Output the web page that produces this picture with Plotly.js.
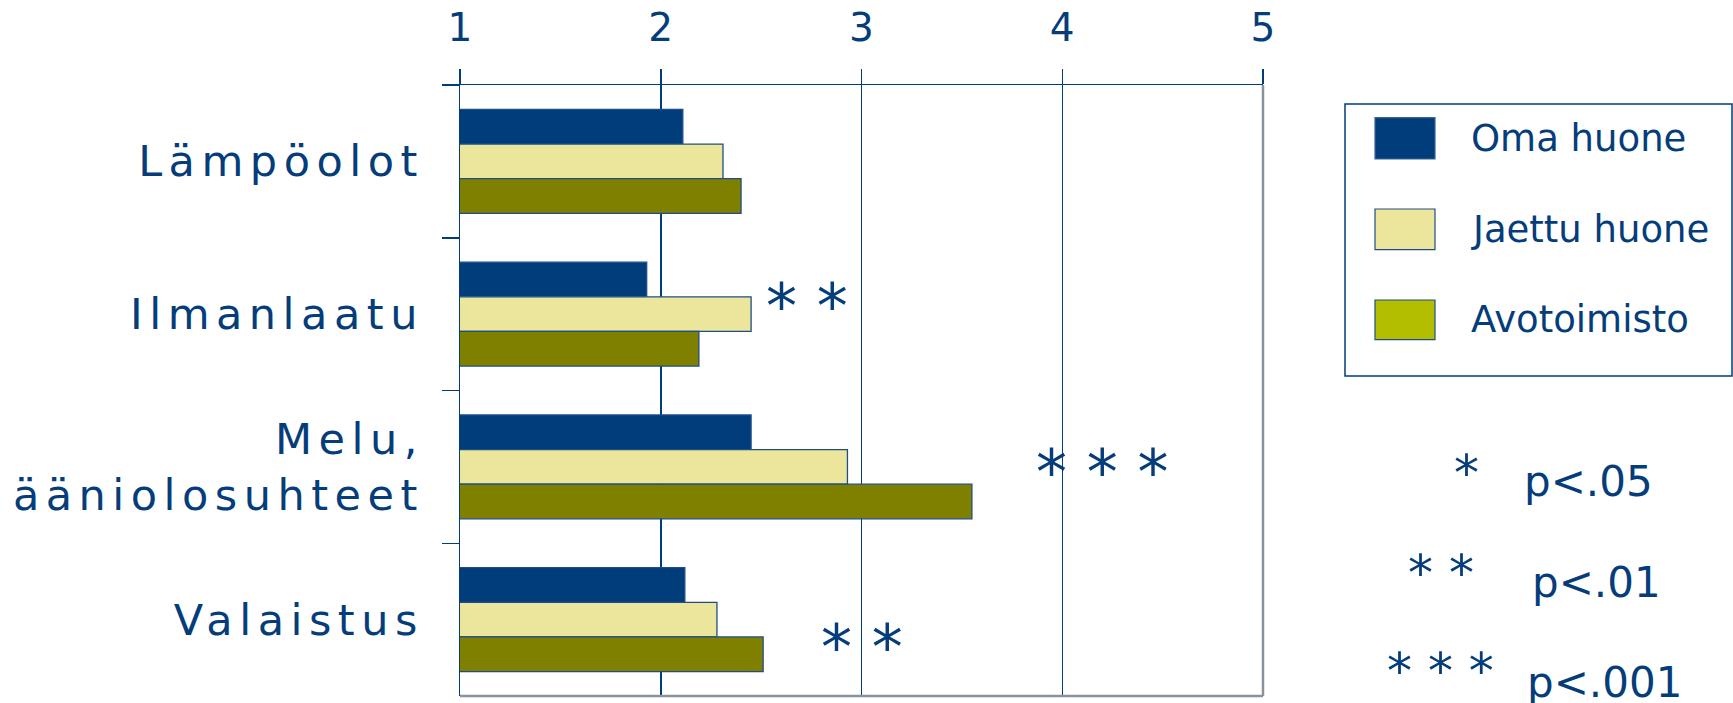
<!DOCTYPE html>
<html>
<head>
<meta charset="utf-8">
<script src="https://cdn.plot.ly/plotly-3.0.1.min.js"></script>
<style>
  html, body { margin: 0; padding: 0; background: #ffffff; }
  #chart { width: 1733px; height: 703px; }
  #chart .ytick text { letter-spacing: 6.5px; }
</style>
</head>
<body>
<div id="chart"></div>
<script>
// ---- data ----
const categories = ['Lämpöolot', 'Ilmanlaatu', 'Melu,<br>ääniolosuhteet', 'Valaistus'];
const seriesNames = ['Oma huone', 'Jaettu huone', 'Avotoimisto'];
const omaHuone = [2.11, 1.93, 2.45, 2.12];
const jaettuHuone = [2.31, 2.45, 2.93, 2.28];
const avotoimisto = [2.40, 2.19, 3.55, 2.51];
const xTickValues = [1, 2, 3, 4, 5];
const significance = ['', '* *', '* * *', '* *'];
const sigLegendStars = ['*', '* *', '* * *'];
const sigLegendLabels = ['p<.05', 'p<.01', 'p<.001'];

// ---- style ----
const BLUE = '#003d7a';
const TEXT = '#053d7b';
const EDGE = '#1f4e86';
const GRAY = '#8a929c';
const barFill = ['#003d7a', '#ebe69b', '#808000'];
const swatchFill = ['#003d7a', '#ebe69b', '#b3be00'];
const FONT = 'DejaVu Sans, Verdana, sans-serif';

// pixel -> paper helpers (plot area 460..1263 x 85..696)
const L = 460, R = 1263, T = 85, B = 696;
const X = px => (px - L) / (R - L);
const Y = py => (B - py) / (B - T);

const values = [omaHuone, jaettuHuone, avotoimisto];
const traces = values.map((v, i) => ({
  type: 'bar',
  orientation: 'h',
  name: seriesNames[i],
  y: categories,
  x: v,
  marker: { color: barFill[i], line: { color: EDGE, width: 1.3 } },
  hoverinfo: 'x+name',
  showlegend: false
}));

const shapes = [
  // gray right and bottom frame
  { type: 'line', xref: 'paper', yref: 'paper', x0: 1, x1: 1, y0: 0, y1: 1,
    line: { color: GRAY, width: 2.5 }, layer: 'above' },
  { type: 'line', xref: 'paper', yref: 'paper', x0: 0, x1: 1, y0: 0, y1: 0,
    line: { color: GRAY, width: 2.5 }, layer: 'above' },
  // legend box
  { type: 'rect', xref: 'paper', yref: 'paper', x0: X(1345), x1: X(1732), y0: Y(376), y1: Y(104),
    line: { color: BLUE, width: 1.5 }, fillcolor: 'rgba(0,0,0,0)' }
];
const swatchRows = [[117.7, 159], [209, 249.7], [300, 339.7]];
const annotations = [];
swatchRows.forEach((r, i) => {
  shapes.push({ type: 'rect', xref: 'paper', yref: 'paper',
    x0: X(1375), x1: X(1435), y0: Y(r[1]), y1: Y(r[0]),
    fillcolor: swatchFill[i], line: { color: i === 0 ? '#3a6596' : EDGE, width: 1.2 } });
  annotations.push({ xref: 'paper', yref: 'paper', x: X(1469), y: Y((r[0] + r[1]) / 2),
    xanchor: 'left', yanchor: 'middle', showarrow: false, text: seriesNames[i],
    font: { family: FONT, size: 37, color: TEXT } });
});

// significance stars next to bars
const starPos = [null, [807, 306], [1102, 472], [862, 647]];
significance.forEach((s, i) => {
  if (!s) return;
  annotations.push({ xref: 'paper', yref: 'paper', x: X(starPos[i][0]), y: Y(starPos[i][1]),
    xanchor: 'center', yanchor: 'middle', showarrow: false, text: s,
    font: { family: FONT, size: 62, color: TEXT } });
});

// significance legend
const sigStarPos = [[1466, 473], [1441, 573], [1440, 671]];
const sigLabelPos = [[1522, 482], [1530, 582], [1525, 682]];
sigLegendStars.forEach((s, i) => {
  annotations.push({ xref: 'paper', yref: 'paper', x: X(sigStarPos[i][0]), y: Y(sigStarPos[i][1]),
    xanchor: 'center', yanchor: 'middle', showarrow: false, text: s,
    font: { family: FONT, size: 50, color: TEXT } });
  annotations.push({ xref: 'paper', yref: 'paper', x: X(sigLabelPos[i][0]), y: Y(sigLabelPos[i][1]),
    xanchor: 'left', yanchor: 'middle', showarrow: false, text: sigLegendLabels[i],
    font: { family: FONT, size: 42, color: TEXT } });
});

const layout = {
  width: 1733, height: 703,
  margin: { l: L, r: 1733 - R, t: T, b: 703 - B, pad: 0 },
  paper_bgcolor: '#ffffff', plot_bgcolor: '#ffffff',
  barmode: 'group', bargap: 0.32, bargroupgap: 0,
  showlegend: false,
  xaxis: {
    side: 'top', range: [1, 5], tickvals: xTickValues, ticktext: xTickValues.map(String),
    ticks: 'outside', ticklen: 15, tickwidth: 1.5, tickcolor: BLUE,
    showline: true, linecolor: BLUE, linewidth: 1.5,
    showgrid: true, gridcolor: BLUE, gridwidth: 1.5, zeroline: false,
    tickfont: { family: FONT, size: 39, color: TEXT }, ticklabelstandoff: 12,
    fixedrange: true
  },
  yaxis: {
    type: 'category', autorange: 'reversed', tickson: 'boundaries',
    ticks: 'outside', ticklen: 17, tickwidth: 1.5, tickcolor: BLUE,
    showline: true, linecolor: BLUE, linewidth: 1.5, showgrid: false, zeroline: false,
    tickfont: { family: FONT, size: 43, color: TEXT }, ticklabelstandoff: 26,
    fixedrange: true
  },
  shapes: shapes,
  annotations: annotations
};

Plotly.newPlot('chart', traces, layout, { displayModeBar: false, staticPlot: true });
</script>
</body>
</html>
